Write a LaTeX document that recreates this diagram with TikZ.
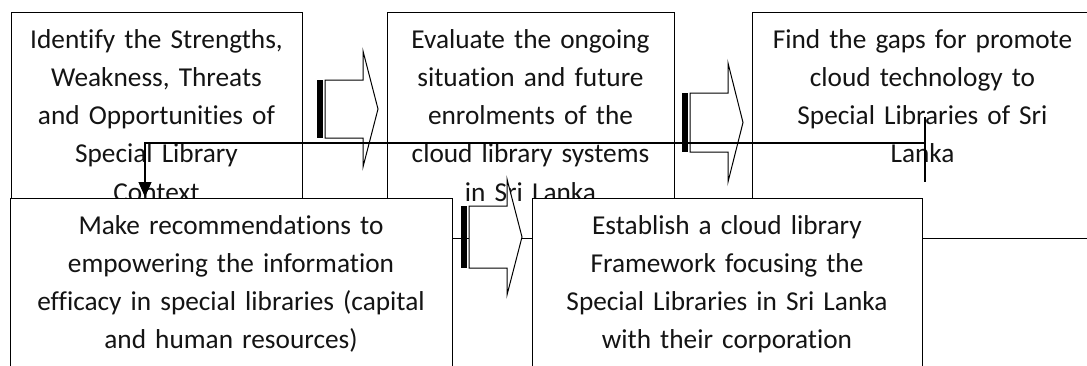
\documentclass[tikz,border=0pt]{standalone}
\usepackage{fontspec}
\setmainfont{Carlito}[Ligatures={NoCommon}]
\usetikzlibrary{arrows.meta,calc}
\definecolor{ink}{HTML}{141414}
\begin{document}
\begin{tikzpicture}[x=1pt,y=-1pt,
  box/.style={draw=black, line width=1.2pt, fill=white, rectangle, inner sep=0pt,
    anchor=north west, minimum width=#1, minimum height=226pt},
  txt/.style={text=ink, font=\fontsize{27.3}{38.3}\selectfont, align=center,
    text width=#1, anchor=base, inner sep=0pt},
  conn/.style={draw=black, line width=1.2pt},
  pics/striped/.style args={#1/#2}{code={
    \fill[black] (0,-#1) rectangle (5.5,#1);
    \draw[black, line width=1pt, fill=white, line join=miter]
      (8,-#1) -- (46,-#1) -- (46,-#2) -- (61,0) -- (46,#2) -- (46,#1) -- (8,#1) -- cycle;
  }}
]
\useasboundingbox (0,0) rectangle (1087,365);
\clip (0,0) rectangle (1087,365);
\fill[white] (0,0) rectangle (1087,365);

% top row boxes
\node[box=291pt] (b1) at (11,12) {};
\node[box=287pt] (b2) at (387,12) {};
\node[box=341pt] (b3) at (752,12) {};

\node[txt=285pt] (t1) at (156.5,48) {Identify the Strengths,\\ Weakness, Threats\\ and Opportunities of\\ Special Library\\ Context};
\node[txt=285pt] (t2) at (530.5,48) {Evaluate the ongoing\\ situation and future\\ enrolments of the\\ cloud library systems\\ in Sri Lanka};
\node[txt=335pt] (t3) at (922.5,48) {Find the gaps for promote\\ cloud technology to\\ Special Libraries of Sri\\ Lanka};

% block arrows top row
\pic (a1) at (317,109) {striped=29/58};
\pic (a2) at (682,122.5) {striped=29.5/59.5};

% connector from box 3 to box 4
\coordinate (k0) at (925,117);
\coordinate (k1) at (925,182);
\coordinate (k2) at (925,143);
\coordinate (k3) at (145,197);
\draw[conn] (k0) -- (k1);
\draw[conn, -{Triangle[length=15pt,width=13pt]}] (k2) -| (k3);

% bottom row boxes
\node[box=442pt] (b4) at (10,198) {};
\node[box=390pt] (b5) at (532,198) {};

\node[txt=436pt] (t4) at (231,234) {Make recommendations to\\ empowering the information\\ efficacy in special libraries (capital\\ and human resources)};
\node[txt=384pt] (t5) at (727,234) {Establish a cloud library\\ Framework focusing the\\ Special Libraries in Sri Lanka\\ with their corporation};

\pic (a3) at (461,237) {striped=31/58};
\end{tikzpicture}
\end{document}
